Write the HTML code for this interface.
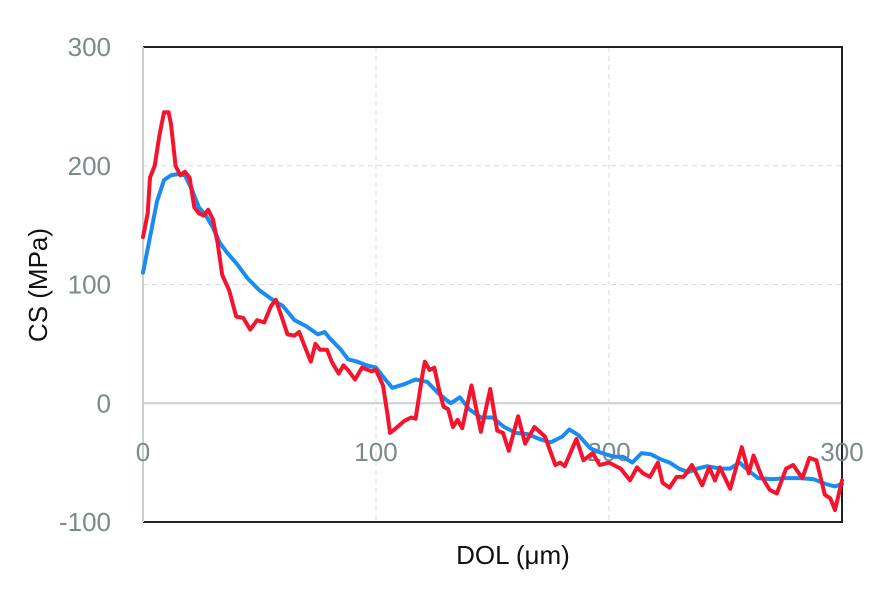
<!DOCTYPE html>
<html><head><meta charset="utf-8"><style>
body{margin:0;background:#fff;width:896px;height:601px;overflow:hidden}
svg{font-family:"Liberation Sans",sans-serif}
</style></head><body>
<svg id="chart" width="896" height="601" xmlns="http://www.w3.org/2000/svg"></svg>
<script>
const xTicks=[0,100,200,300];
const yTicks=[300,200,100,0,-100];
const blueX=[0,3,6,9,12,15,18,21,24,27,30,33,36,40,45,50,55,60,65,70,75,78,80,85,88,92,96,100,104,107,112,117,122,127,132,136,140,145,150,155,160,165,170,175,180,183,187,192,197,202,206,210,214,218,222,226,230,234,238,242,248,252,256,260,264,270,276,282,288,293,297,300];
const blueY=[110,140,170,188,192,193,192,180,165,158,148,135,127,118,105,95,88,82,70,65,58,60,55,45,37,35,32,30,20,13,16,20,18,8,0,5,-5,-12,-12,-20,-25,-26,-30,-33,-28,-22,-27,-38,-42,-45,-45,-50,-42,-43,-47,-50,-55,-58,-55,-53,-55,-55,-50,-57,-63,-64,-63,-63,-64,-68,-70,-68];
const redX=[0,2,3,5,7,9,11,12,14,16,18,20,22,24,26,28,30,32,34,37,40,43,46,49,52,55,57,60,62,65,67,70,72,74,76,79,81,84,86,88,91,94,98,100,103,105,106,108,112,115,117,120,121,123,125,127,129,131,133,135,137,141,145,149,152,154.5,157,161,164,168,172.5,177,179,181,186,189,193,196,200,205,209,212,214.6,217.6,221,223,226,229,232,235.6,240,243,245.5,247.6,252,257,260,262,265.6,269,272,276,279,283,286,289,292.6,295,297,300];
const redY=[140,160,190,200,225,245,245,235,200,192,195,190,165,160,158,163,155,135,108,95,73,72,62,70,68,82,87,70,58,57,60,45,35,50,45,45,35,25,32,28,20,30,27,28,15,-10,-25,-22,-15,-12,-13,25,35,28,30,12,-3,-5,-20,-14,-21,15,-24,12,-23,-25,-40,-11,-34,-20,-28,-52,-50,-53,-30,-48,-42,-52,-50,-55,-65,-54,-59,-62,-50,-67,-71,-62,-62,-52,-69,-54,-65,-54,-72,-37,-59,-44,-62,-73,-76,-55,-52,-63,-46,-48,-77,-80,-90,-65];
const L=143,R=842,T=47,B=522;
const sx=v=>L+(v-0)/300*(R-L);
const sy=v=>T+(300-v)/400*(B-T);
const svg=document.getElementById('chart');
const NS='http://www.w3.org/2000/svg';
function mk(tag,attrs,parent){const e=document.createElementNS(NS,tag);for(const k in attrs)e.setAttribute(k,attrs[k]);(parent||svg).appendChild(e);return e;}
// gridlines
xTicks.forEach(t=>{if(t===0)return;const g=mk('line',{x1:sx(t),x2:sx(t),y1:T,y2:B,stroke:'#d8d8d8','stroke-dasharray':'5,4','stroke-width':1});

});
yTicks.forEach(t=>{if(t===-100||t===300)return;const g=mk('line',{x1:L,x2:R,y1:sy(t),y2:sy(t),stroke:t===0?'#c9d0d0':'#d8d8d8','stroke-dasharray':t===0?'none':'5,4','stroke-width':t===0?2:1});

});
// frame
const fr=mk('path',{d:`M${L},${T} H${R} V${B} H${L}`,fill:'none',stroke:'#222','stroke-width':2});


const la=mk('line',{x1:L,x2:L,y1:T,y2:B,stroke:'#c9d0d0','stroke-width':2});


// tick labels
yTicks.forEach(t=>{const e=mk('text',{x:111,y:sy(t)+9,'text-anchor':'end','font-size':26,fill:'#7b8b8a'});e.textContent=t;

});
xTicks.forEach(t=>{const e=mk('text',{x:sx(t),y:461,'text-anchor':'middle','font-size':26,fill:'#7b8b8a'});e.textContent=t;

});
function line(xs,ys,color,name){const d=xs.map((x,i)=>(i?'L':'M')+sx(x).toFixed(1)+','+sy(ys[i]).toFixed(1)).join(' ');
const p=mk('path',{d:d,fill:'none',stroke:color,'stroke-width':4,'stroke-linejoin':'round','stroke-linecap':'round'});

}
line(blueX,blueY,'#1a8cf0','series-blue');
line(redX,redY,'#f5142d','series-red');
const xt=mk('text',{x:513,y:564,'text-anchor':'middle','font-size':26,fill:'#111'});xt.textContent='DOL (μm)';


const yt=mk('text',{x:0,y:0,'text-anchor':'middle','font-size':26,fill:'#111',transform:'translate(47,285) rotate(-90)'});yt.textContent='CS (MPa)';


</script>
</body></html>
